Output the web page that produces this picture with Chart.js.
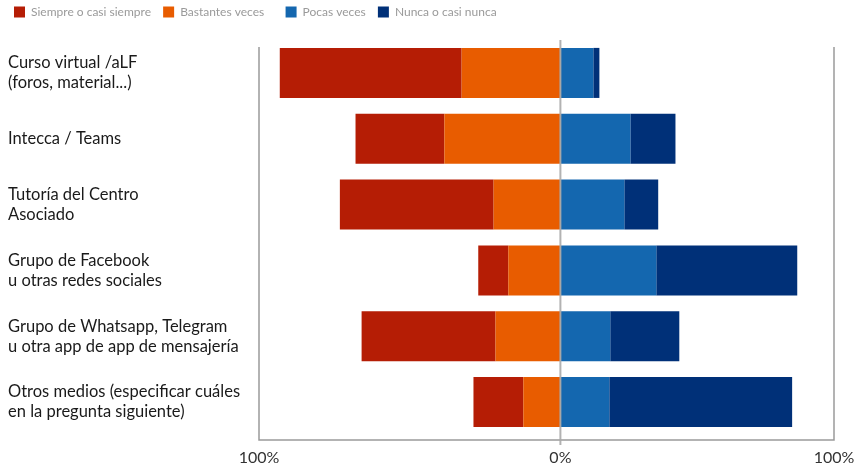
<!DOCTYPE html>
<html>
<head>
<meta charset="utf-8">
<script src="https://cdn.jsdelivr.net/npm/chart.js@4/dist/chart.umd.min.js"></script>
<style>
  html, body { margin: 0; padding: 0; background: #fff; }
  #wrap { width: 859px; height: 470px; position: relative; }
</style>
</head>
<body>
<div id="wrap"><canvas id="chart"></canvas></div>
<script>
// --- data ---
const categories = [
    ['Curso virtual /aLF', '(foros, material...)'],
    ['Intecca / Teams'],
    ['Tutoría del Centro', 'Asociado'],
    ['Grupo de Facebook', 'u otras redes sociales'],
    ['Grupo de Whatsapp, Telegram', 'u otra app de app de mensajería'],
    ['Otros medios (especificar cuáles', 'en la pregunta siguiente)']
];
const siempre   = [56.9, 27.8, 48.1,  9.4, 41.9, 15.6];
const bastantes = [30.9, 36.3, 20.9, 16.3, 20.3, 11.6];
const pocas     = [10.3, 21.9, 20.0, 30.0, 15.6, 15.3];
const nunca     = [ 1.9, 14.1, 10.6, 44.1, 21.6, 57.2];

const xMin = -94.3;   // left edge of the plot box
const xMax = 85.6;    // right edge of the plot box
const xTickLabels = ['100%', '0%', '100%'];

const legendOrder = ['Siempre o casi siempre', 'Bastantes veces', 'Pocas veces', 'Nunca o casi nunca'];
const legendGap = ['  ', '     ', '  ', ''];  // uneven spacing between legend items

const COLORS = {
    siempre: '#B51D05',
    bastantes: '#E85C00',
    pocas: '#1467AF',
    nunca: '#003078'
};

// plot box + zero line
const boxLines = {
    id: 'boxLines',
    afterDatasetsDraw(chart) {
        const { ctx, chartArea, scales } = chart;
        const x = scales.x;
        const left = x.getPixelForValue(xMin);
        const right = x.getPixelForValue(xMax);
        const zero = x.getPixelForValue(0);
        ctx.save();
        ctx.strokeStyle = '#9a9a9a';
        ctx.lineWidth = 1.5;
        ctx.beginPath();
        ctx.moveTo(left, chartArea.top + 7);
        ctx.lineTo(left, chartArea.bottom + 5);
        ctx.lineTo(right, chartArea.bottom + 5);
        ctx.lineTo(right, chartArea.top + 7);
        ctx.stroke();
        ctx.strokeStyle = 'rgba(170,170,170,0.9)';
        ctx.lineWidth = 2;
        ctx.beginPath();
        ctx.moveTo(zero, chartArea.top);
        ctx.lineTo(zero, chartArea.bottom + 10);
        ctx.stroke();
        ctx.restore();
    }
};

// fixed legend block height
const legendSpace = {
    id: 'legendSpace',
    afterInit(chart) {
        const fit = chart.legend.fit;
        chart.legend.fit = function () {
            fit.call(this);
            this.height = 40;
        };
    }
};

new Chart(document.getElementById('chart'), {
    type: 'bar',
    data: {
        labels: categories,
        datasets: [
            { label: 'Bastantes veces', data: bastantes.map(v => -v), backgroundColor: COLORS.bastantes },
            { label: 'Siempre o casi siempre', data: siempre.map(v => -v), backgroundColor: COLORS.siempre },
            { label: 'Pocas veces', data: pocas, backgroundColor: COLORS.pocas },
            { label: 'Nunca o casi nunca', data: nunca, backgroundColor: COLORS.nunca }
        ]
    },
    options: {
        indexAxis: 'y',
        responsive: true,
        maintainAspectRatio: false,
        animation: false,
        layout: { padding: { left: 8, right: 25, top: 0, bottom: 2 } },
        datasets: {
            bar: { barPercentage: 0.76, categoryPercentage: 1, borderWidth: 0 }
        },
        plugins: {
            tooltip: { enabled: false },
            legend: {
                position: 'top',
                align: 'start',
                labels: {
                    boxWidth: 11,
                    boxHeight: 11,
                    padding: 6,
                    color: '#9a9a9a',
                    font: { family: 'Lato', size: 12 },
                    sort: (a, b) => legendOrder.indexOf(a.text.trim()) - legendOrder.indexOf(b.text.trim()),
                    generateLabels(chart) {
                        const items = Chart.defaults.plugins.legend.labels.generateLabels(chart);
                        items.forEach(it => {
                            it.text = it.text + legendGap[legendOrder.indexOf(it.text)];
                            it.lineWidth = 0;
                        });
                        return items;
                    }
                }
            }
        },
        scales: {
            x: {
                stacked: true,
                min: xMin,
                max: xMax,
                grid: { display: false, drawTicks: false },
                border: { display: false },
                afterBuildTicks(scale) {
                    scale.ticks = [{ value: xMin }, { value: 0 }, { value: xMax }];
                },
                afterFit(scale) {
                    scale.height = 33;
                    scale.paddingLeft = 0;
                    scale.paddingRight = 0;
                },
                ticks: {
                    padding: 13,
                    color: '#333',
                    font: { family: 'Lato', size: 16 },
                    maxRotation: 0,
                    callback: (value, i) => xTickLabels[i]
                }
            },
            y: {
                stacked: true,
                grid: { display: false },
                border: { display: false },
                afterFit(scale) { scale.width = 251; },
                ticks: {
                    crossAlign: 'far',
                    color: '#1a1a1a',
                    font: { family: 'Lato', size: 16.5, lineHeight: 1.22 }
                }
            }
        }
    },
    plugins: [boxLines, legendSpace]
});
</script>
</body>
</html>
